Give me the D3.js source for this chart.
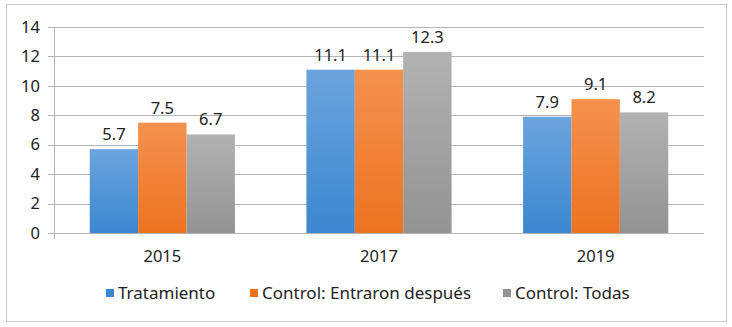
<!DOCTYPE html>
<html>
<head>
<meta charset="utf-8">
<script src="https://cdn.jsdelivr.net/npm/d3@7"></script>
<style>
  body { margin: 0; background: #fff; }
  text { font-family: "Noto Sans", "Open Sans", sans-serif; fill: #222; }
</style>
</head>
<body>
<svg id="chart"></svg>
<script>
(function() {

const years = ["2015", "2017", "2019"];
const seriesNames = ["Tratamiento", "Control: Entraron después", "Control: Todas"];
const tratamiento = [5.7, 11.1, 7.9];
const entraronDespues = [7.5, 11.1, 9.1];
const todas = [6.7, 12.3, 8.2];
const yTicks = [0, 2, 4, 6, 8, 10, 12, 14];

const colorsTop = ["#6ca4dd", "#f4914f", "#b2b2b2"];
const colorsBottom = ["#3b87d0", "#ec7320", "#939393"];

const W = 732, H = 327;
const margin = { top: 27, right: 28, bottom: 94, left: 54 };
const width = W - margin.left - margin.right;
const height = H - margin.top - margin.bottom;

const svg = d3.select("#chart").attr("width", W).attr("height", H);

// outer frame
svg.append("rect")
    .attr("x", 6.5).attr("y", 4.5)
    .attr("width", 720).attr("height", 317)
    .attr("fill", "#fff")
    .attr("stroke", "#c8c8c8");

const defs = svg.append("defs");
colorsTop.forEach((c, i) => {
    const g = defs.append("linearGradient")
        .attr("id", "grad" + i)
        .attr("x1", 0).attr("y1", 0).attr("x2", 0).attr("y2", 1);
    g.append("stop").attr("offset", "0%").attr("stop-color", c);
    g.append("stop").attr("offset", "100%").attr("stop-color", colorsBottom[i]);
});

const g = svg.append("g")
    .attr("transform", `translate(${margin.left},${margin.top})`);

const x = d3.scaleBand()
    .domain(years)
    .range([0, width])
    .paddingInner(0.33)
    .paddingOuter(0.165);

const x1 = d3.scaleBand()
    .domain(d3.range(3))
    .range([0, x.bandwidth()]);

const y = d3.scaleLinear()
    .domain([0, 14])
    .range([height, 0]);

// gridlines
g.append("g")
    .selectAll("line")
    .data(yTicks)
    .join("line")
    .attr("x1", -6).attr("x2", width)
    .attr("y1", d => Math.round(y(d)) + 0.5)
    .attr("y2", d => Math.round(y(d)) + 0.5)
    .attr("stroke", "#b4b4b4");

// y axis
g.append("line")
    .attr("x1", 0.5).attr("x2", 0.5)
    .attr("y1", 0).attr("y2", height + 6)
    .attr("stroke", "#b4b4b4");

g.append("g")
    .selectAll("text")
    .data(yTicks)
    .join("text")
    .attr("x", -14)
    .attr("y", d => y(d))
    .attr("dy", "0.35em")
    .attr("text-anchor", "end")
    .attr("font-size", 16.5)
    .text(d => d);

// x axis labels
g.append("g")
    .selectAll("text")
    .data(years)
    .join("text")
    .attr("x", d => x(d) + x.bandwidth() / 2)
    .attr("y", height + 29)
    .attr("text-anchor", "middle")
    .attr("font-size", 16.5)
    .text(d => d);

const series = [tratamiento, entraronDespues, todas];
const bars = [];
series.forEach((vals, s) => {
    vals.forEach((v, i) => bars.push({ year: years[i], s, v }));
});

// bars
g.append("g")
    .selectAll("rect")
    .data(bars)
    .join("rect")
    .attr("x", d => x(d.year) + x1(d.s))
    .attr("y", d => y(d.v))
    .attr("width", x1.bandwidth())
    .attr("height", d => height - y(d.v))
    .attr("fill", d => `url(#grad${d.s})`);

// value labels
g.append("g")
    .selectAll("text")
    .data(bars)
    .join("text")
    .attr("x", d => x(d.year) + x1(d.s) + x1.bandwidth() / 2)
    .attr("y", d => y(d.v) - 9)
    .attr("text-anchor", "middle")
    .attr("font-size", 16.5)
    .text(d => d.v.toFixed(1));

// legend
const legendX = [106, 250, 503];
const legend = svg.append("g");
seriesNames.forEach((name, i) => {
    legend.append("rect")
        .attr("x", legendX[i]).attr("y", 289)
        .attr("width", 8).attr("height", 8)
        .attr("fill", colorsBottom[i]);
    legend.append("text")
        .attr("x", legendX[i] + 12)
        .attr("y", 293)
        .attr("dy", "0.35em")
        .attr("font-size", 17)
        .text(name);
});

})();
</script>
</body>
</html>
